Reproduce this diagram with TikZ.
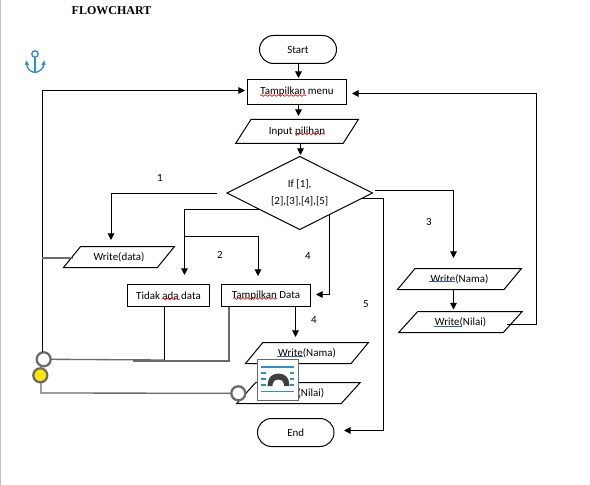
\documentclass[tikz,border=0pt]{standalone}
\usepackage{fontspec}
\setmainfont{Carlito}
\newfontfamily\titlefont{Liberation Serif}
\usetikzlibrary{shapes.geometric,arrows.meta,decorations.pathmorphing}
\definecolor{edgegray}{HTML}{6A6A6A}
\definecolor{iconblue}{HTML}{2E8FD0}
\definecolor{wavered}{HTML}{E02020}
\definecolor{ulblue}{HTML}{2E5FC8}
\tikzset{
  x=0.75pt,y=-0.75pt,
  every node/.style={font=\fontsize{8.2pt}{10pt}\selectfont,inner sep=0pt,outer sep=0pt},
  shapebox/.style={draw=black,line width=0.75pt,fill=white,rectangle,minimum height=16.5pt},
  term/.style={draw=black,line width=0.75pt,fill=white,rectangle,rounded corners=10.5pt,minimum height=21pt},
  para/.style={draw=black,line width=0.75pt,fill=white,trapezium,trapezium left angle=40,trapezium right angle=140,trapezium stretches=true,minimum height=15.75pt},
  dec/.style={draw=black,line width=0.75pt,fill=white,diamond,aspect=2,minimum width=109.1pt,minimum height=54.75pt,align=center},
  conn/.style={draw=black,line width=0.75pt,-{Triangle[length=5pt,width=5pt]}},
  plain/.style={draw=black,line width=0.75pt},
  grayconn/.style={draw=edgegray,line width=1pt},
  wave/.style={draw=wavered,line width=0.55pt,decorate,decoration={snake,amplitude=0.6pt,segment length=3.2pt}},
  ul/.style={draw=ulblue,line width=0.7pt},
  ring/.style={circle,draw=edgegray,line width=1.7pt,fill=white,minimum size=10.5pt},
}
\begin{document}
\begin{tikzpicture}
\useasboundingbox (0,0) rectangle (590,485);
\fill[white] (0,0) rectangle (590,485);
\fill[black!25] (0,0) rectangle (1,485);
\node[font=\titlefont\bfseries\fontsize{9pt}{11pt}\selectfont] (title) at (111.5,11) {FLOWCHART};

% anchor glyph
\begin{scope}[draw=iconblue,line width=1pt]
\draw (35,54) circle (2.4pt);
\draw (35,57.5) -- (35,72.5);
\draw (26.5,63) .. controls (26.5,69) and (31,72) .. (35,72.5) .. controls (39,72) and (44,69) .. (44,63);
\draw (25.5,65) -- (26.5,62) -- (28.5,65);
\draw (42,65) -- (44,62) -- (45,65);
\end{scope}

\node[term,minimum width=57.75pt] (start) at (298,49.5) {Start};
\node[shapebox,minimum width=74.25pt,minimum height=18.75pt] (menu) at (297,92) {Tampilkan menu};
\node[para,trapezium left angle=45,trapezium right angle=135,minimum width=92.25pt,minimum height=18pt] (input) at (297,131.5) {Input pilihan};
\node[dec] (choice) at (299.7,193) {If [1],\\[3pt]{[2],[3],[4],[5]}};
\node[para,minimum width=83.25pt] (wdata) at (119,257) {Write(data)};
\node[shapebox,minimum width=61.5pt] (tidak) at (168.5,295.5) {Tidak ada data};
\node[shapebox,minimum width=66.75pt] (tampil) at (266,295.5) {Tampilkan Data};
\node[para,minimum width=92.25pt] (wnama) at (307,353) {Write(Nama)};
\node[para,minimum width=93pt] (wnilai) at (298.5,393) {\phantom{Write}(Nilai)\hspace{2pt}};
\node[term,minimum width=57.4pt] (endn) at (295.75,432.5) {End};
\node[para,minimum width=93pt] (rnama) at (459.5,279) {Write(Nama)};
\node[para,minimum width=93pt] (rnilai) at (460.5,322) {Write(Nilai)};

% free ends of the connectors
\coordinate (dl) at (217,193.5);
\coordinate (d2a) at (260,209.5);
\coordinate (d2c) at (184.5,236.5);
\coordinate (d4) at (329,215);
\coordinate (d3) at (375,190.5);
\coordinate (d5) at (362,198.5);
\coordinate (rback) at (507,324.5);
\coordinate (loopjoin) at (42,258);

\node[ring] (r1) at (43.7,359.3) {};
\node[ring,fill=yellow!90!orange] (r2) at (40.3,375.3) {};
\node[ring] (r3) at (238.3,393.3) {};

\draw[conn] (298.5,63.5) -- (298.5,78);
\draw[conn] (298.5,104.5) -- (298.5,116);
\draw[conn] (300.5,143.5) -- (300.5,155);
\draw[conn] (dl) -- (111,193.5) -- (111,240);
\draw[conn] (d2a) -- (184.5,209.5) -- (184.5,275);
\draw[conn] (d2c) -- (258,236.5) -- (258,276);
\draw[conn] (d4) -- (329,294.5) -- (316,294.5);
\draw[conn] (d3) -- (453.5,190.5) -- (453.5,258);
\draw[conn] (d5) -- (383,198.5) -- (383,430.5) -- (344,430.5);
\draw[conn] (453.5,289.5) -- (453.5,309.5);
\draw[conn] (rback) -- (536,324.5) -- (536,93.5) -- (352,93.5);
\draw[conn] (295.5,306.5) -- (295.5,337);
\draw[conn] (42,352) -- (42,90.5) -- (245,90.5);
\draw[grayconn] (loopjoin) -- (73,258);
\draw[grayconn] (r1.east) -- (164.5,360);
\draw[plain] (164.5,360) -- (164.5,306.5);
\draw[grayconn] (133,361) -- (229,361) -- (229,306.5);
\draw[grayconn] (41,383) -- (41,393) -- (r3.west);

% icon
\node[draw=edgegray,line width=0.7pt,fill=white,minimum size=30.75pt] (icon) at (277.8,379.5) {};
\foreach \y in {367,391.5}{\draw[iconblue,line width=1pt] (261,\y) -- (294,\y);}
\foreach \y in {373,379,385}{
  \draw[iconblue,line width=1pt] (261,\y) -- (266,\y);
  \draw[iconblue,line width=1pt] (290,\y) -- (294,\y);}
\fill[black!75] (267.7,386) -- (267.7,384) .. controls (267.7,370) and (289.3,370) .. (289.3,384) -- (289.3,386) -- (284,386) -- (284,384) .. controls (284,378) and (272.7,378) .. (272.7,384) -- (272.7,386) -- cycle;

% underlines
\draw[wave] (260,95.5) -- (306,95.5);
\draw[wave] (295,134) -- (325,134);
\draw[wave] (162,299) -- (180,299);
\draw[wave] (233,298.5) -- (277,298.5);
\draw[ul] (277,356) -- (303,356);
\draw[ul] (429,281.5) -- (455,281.5);
\draw[ul] (434,326.5) -- (462,326.5);
\draw[ul] (298.5,397) -- (299.5,397);

\node (l1) at (160,178) {1};
\node (l2) at (220,254.5) {2};
\node (l4a) at (308,256) {4};
\node (l3) at (429,222) {3};
\node (l5) at (366,304.5) {5};
\node (l4b) at (314,320) {4};
\end{tikzpicture}
\end{document}
